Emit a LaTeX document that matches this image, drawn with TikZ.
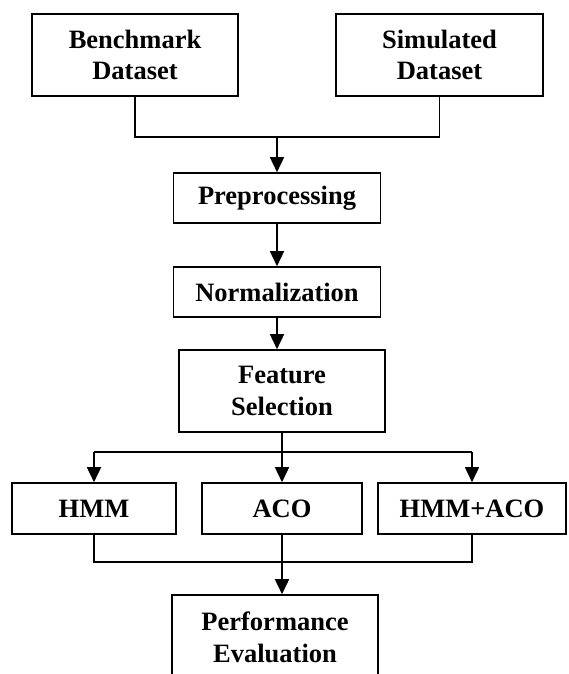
\documentclass[tikz,border=0pt]{standalone}
\usepackage{fontspec}
\setmainfont{Liberation Serif}
\usetikzlibrary{arrows.meta}
\begin{document}
\begin{tikzpicture}[x=1pt,y=-1pt,
  box/.style={draw, line width=1.6pt, inner sep=0pt, align=center,
    font=\fontsize{26.5}{31.8}\selectfont\bfseries},
  conn/.style={line width=1.6pt},
  arr/.style={conn, -{Triangle[length=15pt,width=14pt]}}]
\useasboundingbox (0,0) rectangle (568,674);
\fill[white] (0,0) rectangle (568,674);
% boxes
\node[box, minimum width=206pt, minimum height=82pt] (bench) at (135,55) {Benchmark\\Dataset};
\node[box, minimum width=207pt, minimum height=82pt] (sim) at (439.5,55) {Simulated\\Dataset};
\node[box, minimum width=207pt, minimum height=50pt] (prep) at (277,198) {Preprocessing};
\node[box, minimum width=207pt, minimum height=50pt] (norm) at (277,292) {Normalization};
\node[box, minimum width=206pt, minimum height=82pt] (feat) at (282,391) {Feature\\Selection};
\node[box, minimum width=164pt, minimum height=51pt] (hmm) at (94,508.5) {HMM};
\node[box, minimum width=160pt, minimum height=51pt] (aco) at (282,508.5) {ACO};
\node[box, minimum width=188pt, minimum height=51pt] (ha) at (472,508.5) {HMM+ACO};
\node[box, minimum width=206pt, minimum height=84pt] (perf) at (275,637) {Performance\\Evaluation};
% junctions
\coordinate (j1) at (277,137);
\coordinate (j2) at (282,452);
\coordinate (j3) at (282,562);
% connectors
\draw[conn] (bench.south) |- (sim.south |- j1) -- (sim.south);
\draw[arr] (j1) -- (prep.north);
\draw[arr] (prep.south) -- (norm.north);
\draw[arr] (norm.south) -- (norm.south |- feat.north);
\draw[conn] (hmm.north |- j2) -- (ha.north |- j2);
\draw[arr] (feat.south) -- (aco.north);
\draw[arr] (hmm.north |- j2) -- (hmm.north);
\draw[arr] (ha.north |- j2) -- (ha.north);
\draw[conn] (hmm.south) |- (ha.south |- j3) -- (ha.south);
\draw[arr] (aco.south) -- (aco.south |- perf.north);
\end{tikzpicture}
\end{document}
